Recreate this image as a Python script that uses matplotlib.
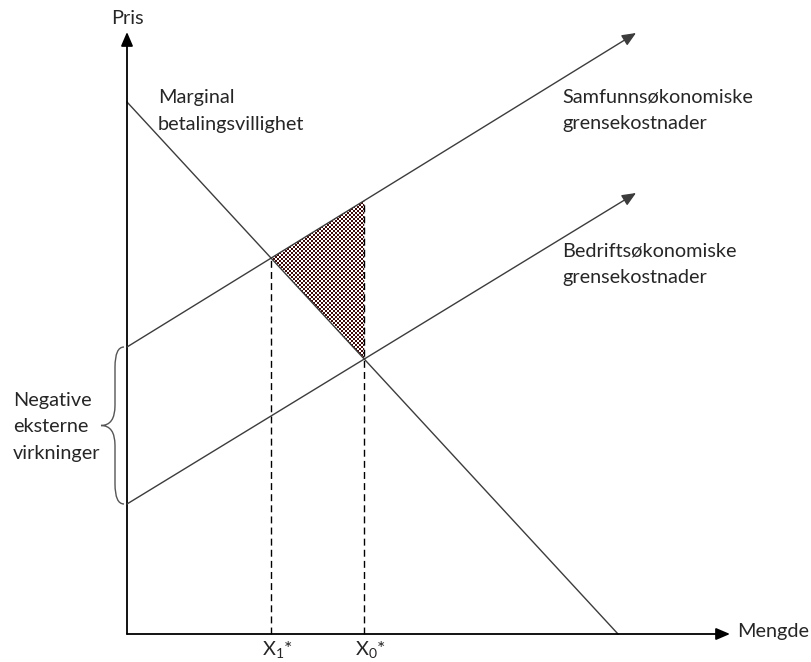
import numpy as np
import matplotlib.pyplot as plt
from matplotlib.path import Path
from matplotlib.patches import PathPatch, Polygon
from matplotlib.colors import ListedColormap

plt.rcParams['font.family'] = ['Lato', 'DejaVu Sans']
plt.rcParams['mathtext.default'] = 'regular'

# data (mengde, pris)
demand_q = [0.0, 49.1]
demand_p = [53.2, 0.0]
social_q = [0.0, 50.9]
social_p = [28.7, 60.1]
private_q = [0.0, 50.9]
private_p = [13.0, 44.1]
axis_max_q = 60.3
axis_max_p = 60.2

txt_color = '#262626'
line_color = '#3c3c3c'


def line_coef(q, p):
    slope = (p[1] - p[0]) / (q[1] - q[0])
    return slope, p[0] - slope * q[0]


def crossing(a, b):
    (s1, c1), (s2, c2) = a, b
    q = (c2 - c1) / (s1 - s2)
    return q, s1 * q + c1


dem = line_coef(demand_q, demand_p)
soc = line_coef(social_q, social_p)
pri = line_coef(private_q, private_p)
x1, y1 = crossing(dem, soc)
x0, y0 = crossing(dem, pri)
y0_soc = soc[0] * x0 + soc[1]

fig = plt.figure(figsize=(8.11, 6.62), dpi=100)
ax = fig.add_axes([0, 0, 1, 1])
ax.axis('off')

# akser
arrow = dict(arrowstyle='-|>,head_length=0.7,head_width=0.3', color='black',
             lw=1.3, shrinkA=0, shrinkB=0, mutation_scale=12)
ax.annotate('', xy=(0, axis_max_p), xytext=(0, 0), arrowprops=arrow)
ax.annotate('', xy=(axis_max_q, 0), xytext=(0, 0), arrowprops=arrow)

# kurver
ax.plot(demand_q, demand_p, color=line_color, lw=1.0)
arrow2 = dict(arrow, color=line_color, lw=1.0)
ax.annotate('', xy=(social_q[1], social_p[1]), xytext=(social_q[0], social_p[0]), arrowprops=arrow2)
ax.annotate('', xy=(private_q[1], private_p[1]), xytext=(private_q[0], private_p[0]), arrowprops=arrow2)

# stiplede linjer
ax.plot([x1, x1], [0, y1], color='black', lw=1.0, ls=(0, (5, 3)))
ax.plot([x0, x0], [0, y0_soc], color='black', lw=1.0, ls=(0, (5, 3)))

# skravert trekant (velferdstap)
tri = Polygon([(x1, y1), (x0, y0_soc), (x0, y0)], closed=True, facecolor='none', edgecolor='none')
ax.add_patch(tri)
n = 200
checker = (np.indices((n, n)).sum(axis=0) % 2)
im = ax.imshow(checker, cmap=ListedColormap(['white', '#3f0c0c']), interpolation='nearest',
               extent=(x1 - 0.05, x1 - 0.05 + n * 0.2, y0 - 0.05, y0 - 0.05 + n * 0.2), origin='lower',
               zorder=1)
im.set_clip_path(tri)
ax.set_xlim(-12.7, 68.4)
ax.set_ylim(-2.8, 63.4)
ax.set_aspect('auto')

# klamme
bx_end, bx_mid, bx_tip, r = -0.3, -1.2, -2.6, 2.0
top, bot = social_p[0], private_p[0]
mid = (top + bot) / 2
verts = [(bx_end, top), (bx_mid, top), (bx_mid, top - r),
         (bx_mid, mid + r),
         (bx_mid, mid), (bx_tip, mid),
         (bx_mid, mid), (bx_mid, mid - r),
         (bx_mid, bot + r),
         (bx_mid, bot), (bx_end, bot)]
codes = [Path.MOVETO, Path.CURVE3, Path.CURVE3, Path.LINETO, Path.CURVE3, Path.CURVE3,
         Path.CURVE3, Path.CURVE3, Path.LINETO, Path.CURVE3, Path.CURVE3]
ax.add_patch(PathPatch(Path(verts, codes), facecolor='none', edgecolor='#555555', lw=1.0))

fs = 14.3
ls = 1.65
ax.text(0, 61.5, 'Pris', fontsize=fs, color=txt_color, ha='center', va='center')
ax.text(axis_max_q + 0.7, 0.2, 'Mengde', fontsize=fs, color=txt_color, ha='left', va='center')
ax.text(3.1, 52.3, 'Marginal\nbetalingsvillighet', fontsize=fs, color=txt_color,
        ha='left', va='center', linespacing=ls)
ax.text(43.5, 52.4, 'Samfunnsøkonomiske\ngrensekostnader', fontsize=fs, color=txt_color,
        ha='left', va='center', linespacing=ls)
ax.text(43.5, 37.0, 'Bedriftsøkonomiske\ngrensekostnader', fontsize=fs, color=txt_color,
        ha='left', va='center', linespacing=ls)
ax.text(-11.4, 20.7, 'Negative\neksterne\nvirkninger', fontsize=fs, color=txt_color,
        ha='left', va='center', linespacing=ls)
ax.text(x1 + 0.6, -1.6, 'X$_1$*', fontsize=fs, color=txt_color, ha='center', va='center')
ax.text(x0 + 0.6, -1.6, 'X$_0$*', fontsize=fs, color=txt_color, ha='center', va='center')

fig.savefig('out.png', dpi=100)
